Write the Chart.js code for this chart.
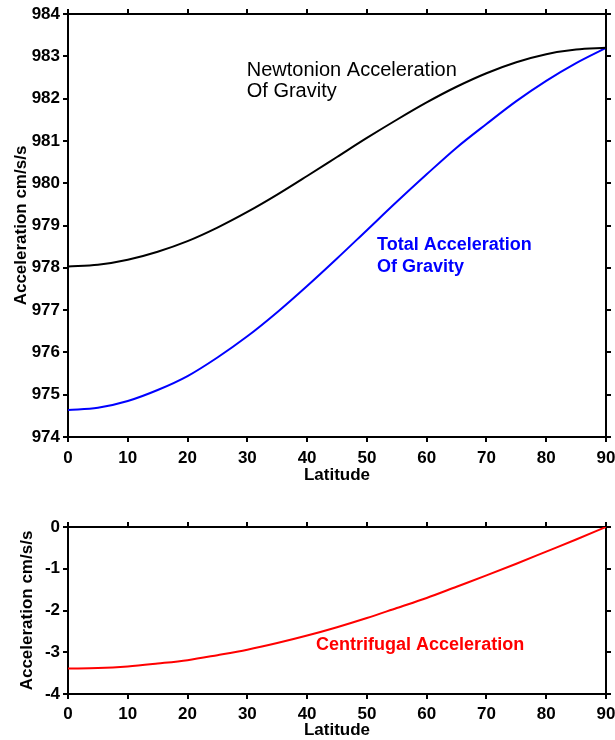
<!DOCTYPE html>
<html>
<head>
<meta charset="utf-8">
<script src="https://cdn.jsdelivr.net/npm/chart.js@4"></script>
<style>
  html, body { margin: 0; padding: 0; background: #fff; }
  #wrap { position: relative; width: 615px; height: 740px; }
  canvas { position: absolute; left: 0; }
  #gravityChart { top: 0; }
  #centrifugalChart { top: 490px; }
</style>
</head>
<body>
<div id="wrap">
  <canvas id="gravityChart" width="615" height="490"></canvas>
  <canvas id="centrifugalChart" width="615" height="250"></canvas>
</div>
<script>
// ------------------------------
// DATA
// ------------------------------

const latitude = [0, 5, 10, 15, 20, 25, 30, 35, 40, 45, 50, 55, 60, 65, 70, 75, 80, 85, 90];

const newtonian = [978.03, 978.07, 978.19, 978.38, 978.63, 978.95, 979.32, 979.73, 980.17, 980.62,
                   981.07, 981.50, 981.91, 982.28, 982.60, 982.86, 983.05, 983.16, 983.20];

const totalGravity = [974.64, 974.69, 974.85, 975.11, 975.44, 975.88, 976.38, 976.95, 977.57, 978.22,
                      978.89, 979.56, 980.21, 980.84, 981.40, 981.94, 982.42, 982.84, 983.20];

const centrifugal = [-3.39, -3.38, -3.34, -3.27, -3.19, -3.07, -2.94, -2.78, -2.60, -2.40,
                     -2.18, -1.94, -1.70, -1.43, -1.16, -0.88, -0.59, -0.30, 0];

const latitudeTicks = [0, 10, 20, 30, 40, 50, 60, 70, 80, 90];
const gravityTicks = [974, 975, 976, 977, 978, 979, 980, 981, 982, 983, 984];
const centrifugalTicks = [-4, -3, -2, -1, 0];

const newtonLabel = ["Newtonion Acceleration", "Of Gravity"];
const totalLabel = ["Total Acceleration", "Of Gravity"];
const centrifugalLabel = ["Centrifugal Acceleration"];


// ------------------------------
// HELPERS
// ------------------------------

const FONT = '"Liberation Sans", Arial, Helvetica, sans-serif';

function points(values) {
    return latitude.map((lat, i) => ({ x: lat, y: values[i] }));
}

function useTicks(list) {
    return (scale) => { scale.ticks = list.map(v => ({ value: v })); };
}

function fixSize(size) {
    return (scale) => {
        if (scale.isHorizontal()) scale.height = size;
        else scale.width = size;
        scale.paddingLeft = 0;
        scale.paddingRight = 0;
        scale.paddingTop = 0;
        scale.paddingBottom = 0;
    };
}

const frameBorder = { display: true, color: "#000", width: 2 };
const frameGrid = { drawOnChartArea: false, drawTicks: true, tickLength: 5, color: "#000", lineWidth: 2 };

// draws the curve names inside the plot, anchored in data units
const curveLabels = {
    id: "curveLabels",
    afterDatasetsDraw(chart, args, opts) {
        const ctx = chart.ctx;
        const xs = chart.scales.x;
        const ys = chart.scales.y;
        (opts.items || []).forEach(item => {
            ctx.save();
            ctx.font = item.font;
            ctx.fillStyle = item.color;
            ctx.textAlign = "left";
            ctx.textBaseline = "alphabetic";
            const px = xs.getPixelForValue(item.lat);
            item.lines.forEach((line, i) => {
                ctx.fillText(line, px, ys.getPixelForValue(item.at[i]));
            });
            ctx.restore();
        });
    }
};

function buildScales(yTicks, s) {
    const tickFont = { family: FONT, size: 17, weight: "bold" };
    return {
        x: {
            type: "linear", position: "bottom",
            min: latitudeTicks[0], max: latitudeTicks[latitudeTicks.length - 1],
            afterBuildTicks: useTicks(latitudeTicks),
            afterFit: fixSize(s.xHeight),
            border: frameBorder, grid: frameGrid,
            ticks: { color: "#000", font: tickFont, padding: s.xTickPad, maxRotation: 0, autoSkip: false },
            title: {
                display: true, text: "Latitude", color: "#000",
                font: { family: FONT, size: 17, weight: "bold", lineHeight: 1 },
                padding: { top: 0, bottom: s.xTitlePad }
            }
        },
        x2: {
            type: "linear", position: "top",
            min: latitudeTicks[0], max: latitudeTicks[latitudeTicks.length - 1],
            afterBuildTicks: useTicks(latitudeTicks),
            afterFit: fixSize(s.topHeight),
            border: frameBorder, grid: frameGrid,
            ticks: { display: false }
        },
        y: {
            type: "linear", position: "left",
            min: yTicks[0], max: yTicks[yTicks.length - 1],
            afterBuildTicks: useTicks(yTicks),
            afterFit: fixSize(68),
            border: frameBorder, grid: frameGrid,
            ticks: { color: "#000", font: tickFont, padding: 3 },
            title: {
                display: true, text: "Acceleration cm/s/s", color: "#000",
                font: { family: FONT, size: 17, weight: "bold" },
                padding: { top: s.yTitlePad, bottom: 0 }
            }
        },
        y2: {
            type: "linear", position: "right",
            min: yTicks[0], max: yTicks[yTicks.length - 1],
            afterBuildTicks: useTicks(yTicks),
            afterFit: fixSize(9),
            border: frameBorder, grid: frameGrid,
            ticks: { display: false }
        }
    };
}

function lineSet(values, color) {
    return {
        data: points(values),
        borderColor: color,
        borderWidth: 2,
        pointRadius: 0,
        fill: false,
        cubicInterpolationMode: "monotone",
        xAxisID: "x",
        yAxisID: "y"
    };
}


// ------------------------------
// TOP CHART: NEWTONIAN + TOTAL
// ------------------------------

new Chart(document.getElementById("gravityChart").getContext("2d"), {
    type: "line",
    data: {
        datasets: [
            lineSet(newtonian, "#000000"),
            lineSet(totalGravity, "#0000ff")
        ]
    },
    options: {
        responsive: false,
        animation: false,
        layout: { padding: 0 },
        scales: buildScales(gravityTicks, { xHeight: 53, topHeight: 14, xTickPad: 6, xTitlePad: 6, yTitlePad: 11.5 }),
        plugins: {
            legend: { display: false },
            tooltip: { enabled: false },
            curveLabels: {
                items: [
                    { lines: newtonLabel, lat: 29.9, at: [982.54, 982.04], font: "20px " + FONT, color: "#000" },
                    { lines: totalLabel, lat: 51.7, at: [978.42, 977.91], font: "bold 18px " + FONT, color: "#0000ff" }
                ]
            }
        }
    },
    plugins: [curveLabels]
});


// ------------------------------
// BOTTOM CHART: CENTRIFUGAL
// ------------------------------

new Chart(document.getElementById("centrifugalChart").getContext("2d"), {
    type: "line",
    data: {
        datasets: [lineSet(centrifugal, "#ff0000")]
    },
    options: {
        responsive: false,
        animation: false,
        layout: { padding: 0 },
        scales: buildScales(centrifugalTicks, { xHeight: 46, topHeight: 37, xTickPad: 5, xTitlePad: 1, yTitlePad: 17.5 }),
        plugins: {
            legend: { display: false },
            tooltip: { enabled: false },
            curveLabels: {
                items: [
                    { lines: centrifugalLabel, lat: 41.5, at: [-2.95], font: "bold 18px " + FONT, color: "#ff0000" }
                ]
            }
        }
    },
    plugins: [curveLabels]
});
</script>
</body>
</html>
